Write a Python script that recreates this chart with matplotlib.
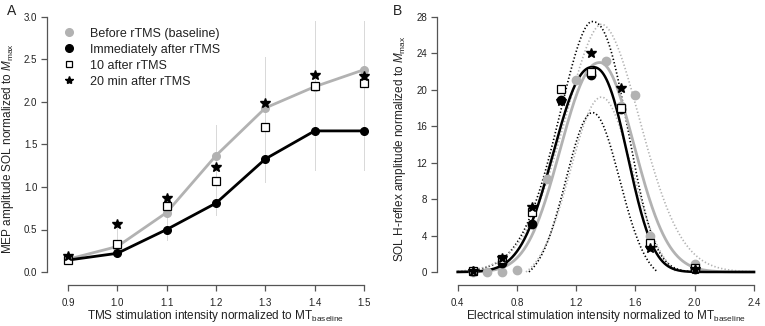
import numpy as np
import matplotlib
matplotlib.use("Agg")
import matplotlib.pyplot as plt

plt.rcParams['font.family'] = ['Liberation Sans', 'DejaVu Sans']
plt.rcParams['mathtext.fontset'] = 'custom'
plt.rcParams['mathtext.rm'] = 'Liberation Sans'
plt.rcParams['mathtext.it'] = 'Liberation Sans:italic'

# ---------------- Panel A data ----------------
tms_x = [0.9, 1.0, 1.1, 1.2, 1.3, 1.4, 1.5]
a_baseline = [0.15, 0.30, 0.70, 1.37, 1.93, 2.18, 2.38]
a_immediate = [0.14, 0.22, 0.50, 0.81, 1.33, 1.66, 1.66]
a_10min = [0.14, 0.33, 0.78, 1.07, 1.70, 2.19, 2.22]
a_20min = [0.19, 0.56, 0.87, 1.23, 1.99, 2.32, 2.31]
a_err_low = [0.14, 0.24, 0.38, 0.67, 1.06, 1.20, 1.20]
a_err_high = [0.20, 0.55, 0.93, 1.73, 2.53, 2.95, 2.95]
a_xticks = [0.9, 1.0, 1.1, 1.2, 1.3, 1.4, 1.5]
a_yticks = [0.0, 0.5, 1.0, 1.5, 2.0, 2.5, 3.0]
legend_labels = ["Before rTMS (baseline)", "Immediately after rTMS",
                 "10 after rTMS", "20 min after rTMS"]

# ---------------- Panel B data ----------------
b_base_x = [0.5, 0.6, 0.7, 0.8, 1.0, 1.2, 1.3, 1.4, 1.5, 1.6, 1.7, 2.0]
b_base_y = [0.05, 0.0, 0.0, 0.25, 10.2, 21.1, 22.0, 23.2, 18.2, 19.4, 3.9, 0.9]
b_imm_x = [0.5, 0.7, 0.9, 1.1, 1.3, 1.5, 1.7, 2.0]
b_imm_y = [0.1, 1.0, 5.3, 18.9, 21.6, 17.9, 2.9, 0.35]
b_10_x = [0.5, 0.7, 0.9, 1.1, 1.3, 1.5, 1.7, 2.0]
b_10_y = [0.1, 1.4, 6.6, 20.1, 22.0, 18.0, 3.2, 0.4]
b_20_x = [0.5, 0.7, 0.9, 1.1, 1.3, 1.5, 1.7, 2.0]
b_20_y = [0.1, 1.5, 7.1, 18.8, 24.0, 20.2, 2.6, 0.3]
b_xticks = [0.4, 0.8, 1.2, 1.6, 2.0, 2.4]
b_yticks = [0, 4, 8, 12, 16, 20, 24, 28]

# fitted curves: amplitude, centre, left width, left power, right width, right power, offset
fit_black = [22.5, 1.31, 0.255, 2.2, 0.225, 2.4, 0.0]
fit_gray = [23.0, 1.36, 0.26, 2.2, 0.23, 2.0, 0.0]
band_black_up = [27.5, 1.305, 0.225, 1.8, 0.232, 2.4, 0.0]
band_black_lo = [18.5, 1.31, 0.178, 2.0, 0.182, 2.0, 1.0]
band_gray_up = [27.2, 1.37, 0.25, 1.8, 0.262, 1.9, 0.0]
band_gray_lo = [20.2, 1.37, 0.208, 2.0, 0.208, 2.0, 1.0]


def curve(p, x):
    A, mu, wl, pl, wr, pr, off = p
    d = x - mu
    w = np.where(d < 0, wl, wr)
    pw = np.where(d < 0, pl, pr)
    y = A * np.exp(-0.5 * (np.abs(d) / w) ** pw) - off
    return np.where(y >= 0, y, np.nan)


GRAY = '#b2b2b2'
AXC = '#555555'
TXT = '#222222'
LBL = 8.5
DOT = (0, (0.8, 1.3))

W, H = 765, 326
fig = plt.figure(figsize=(W / 100, H / 100), dpi=100)


def make_axes(left_px, right_px, top_px, bottom_px, x0, x0px, x1, x1px, y0, y0px, y1, y1px):
    ax = fig.add_axes([left_px / W, 1 - bottom_px / H, (right_px - left_px) / W, (bottom_px - top_px) / H])
    sx = (x1px - x0px) / (x1 - x0)
    sy = (y0px - y1px) / (y1 - y0)
    ax.set_xlim(x0 - (x0px - left_px) / sx, x1 + (right_px - x1px) / sx)
    ax.set_ylim(y0 - (bottom_px - y0px) / sy, y1 + (y1px - top_px) / sy)
    for s in ['top', 'right']:
        ax.spines[s].set_visible(False)
    for s in ['left', 'bottom']:
        ax.spines[s].set_color(AXC)
        ax.spines[s].set_linewidth(0.9)
    ax.spines['left'].set_bounds(y0, y1)
    ax.spines['bottom'].set_bounds(x0, x1)
    ax.tick_params(direction='out', length=4, width=0.9, color=AXC, labelcolor=TXT, labelsize=7)
    ax.tick_params(axis='y', pad=3)
    ax.tick_params(axis='x', pad=5)
    xc = ((x0px + x1px) / 2 - left_px) / (right_px - left_px)
    return ax, xc

# ---------------- Panel A ----------------
axA, xcA = make_axes(47, 370, 12, 285, 0.9, 68, 1.5, 364, 0.0, 272, 3.0, 17)
for xi, lo, hi in zip(tms_x, a_err_low, a_err_high):
    axA.plot([xi, xi], [lo, hi], color='#d8d8d8', lw=0.7, zorder=1)
axA.plot(tms_x, a_baseline, '-o', color=GRAY, lw=2, ms=5.5, mec=GRAY, zorder=3, clip_on=False)
axA.plot(tms_x, a_immediate, '-o', color='black', lw=2, ms=5.5, zorder=4, clip_on=False)
axA.plot(tms_x, a_10min, 's', mfc='white', mec='black', mew=0.9, ms=6, ls='none', zorder=5, clip_on=False)
axA.plot(tms_x, a_20min, '*', color='black', ms=7, ls='none', zorder=6, clip_on=False)
axA.set_xticks(a_xticks)
axA.set_xticklabels([f"{v:.1f}" for v in a_xticks])
axA.set_yticks(a_yticks)
axA.set_yticklabels([f"{v:.1f}" for v in a_yticks])
axA.set_xlabel(r'TMS stimulation intensity normalized to MT$_{\mathrm{baseline}}$', fontsize=LBL, color=TXT, labelpad=1)
axA.xaxis.set_label_coords(xcA, -0.085)
axA.set_ylabel(r'MEP amplitude SOL normalized to $M_{\mathrm{max}}$', fontsize=LBL, color=TXT, labelpad=6)

leg_handles = [
    plt.Line2D([], [], marker='o', ls='none', color=GRAY, ms=5.5),
    plt.Line2D([], [], marker='o', ls='none', color='black', ms=5.5),
    plt.Line2D([], [], marker='s', ls='none', mfc='white', mec='black', mew=0.9, ms=5),
    plt.Line2D([], [], marker='*', ls='none', color='black', ms=6),
]
axA.legend(leg_handles, legend_labels, loc='upper left', bbox_to_anchor=(0.03, 0.965), frameon=False,
           fontsize=9, handlelength=1.0, handletextpad=1.15, labelspacing=0.32, labelcolor=TXT, borderpad=0)

# ---------------- Panel B ----------------
axB, xcB = make_axes(437, 760, 12, 285, 0.4, 457.7, 2.4, 754, 0, 272, 28, 17)
xs = np.linspace(0.4, 2.4, 600)
axB.plot(xs, curve(band_black_up, xs), ls=DOT, color='black', lw=1.2, zorder=2)
axB.plot(xs, curve(band_black_lo, xs), ls=DOT, color='black', lw=1.2, zorder=2)
axB.plot(xs, curve(band_gray_up, xs), ls=DOT, color=GRAY, lw=1.2, zorder=2)
axB.plot(xs, curve(band_gray_lo, xs), ls=DOT, color=GRAY, lw=1.2, zorder=2)
axB.plot(xs, curve(fit_gray, xs), color=GRAY, lw=2, zorder=3)
axB.plot(xs, curve(fit_black, xs), color='black', lw=1.8, zorder=4)
axB.plot(b_base_x, b_base_y, 'o', color=GRAY, ms=6, zorder=5, clip_on=False)
axB.plot(b_imm_x, b_imm_y, 'o', color='black', ms=6, zorder=6, clip_on=False)
axB.plot(b_10_x, b_10_y, 's', mfc='white', mec='black', mew=0.9, ms=5.5, zorder=7, clip_on=False)
axB.plot(b_20_x, b_20_y, '*', color='black', ms=7, zorder=8, clip_on=False)
axB.set_xticks(b_xticks)
axB.set_xticklabels([f"{v:.1f}" for v in b_xticks])
axB.set_yticks(b_yticks)
axB.set_xlabel(r'Electrical stimulation intensity normalized to MT$_{\mathrm{baseline}}$', fontsize=LBL, color=TXT, labelpad=1)
axB.xaxis.set_label_coords(xcB, -0.085)
axB.set_ylabel(r'SOL H-reflex amplitude normalized to $M_{\mathrm{max}}$', fontsize=LBL, color=TXT, labelpad=6)

fig.text(7 / W, 1 - 15 / H, 'A', fontsize=10, color=TXT)
fig.text(393 / W, 1 - 15 / H, 'B', fontsize=10, color=TXT)

fig.savefig('out.png', dpi=100)
